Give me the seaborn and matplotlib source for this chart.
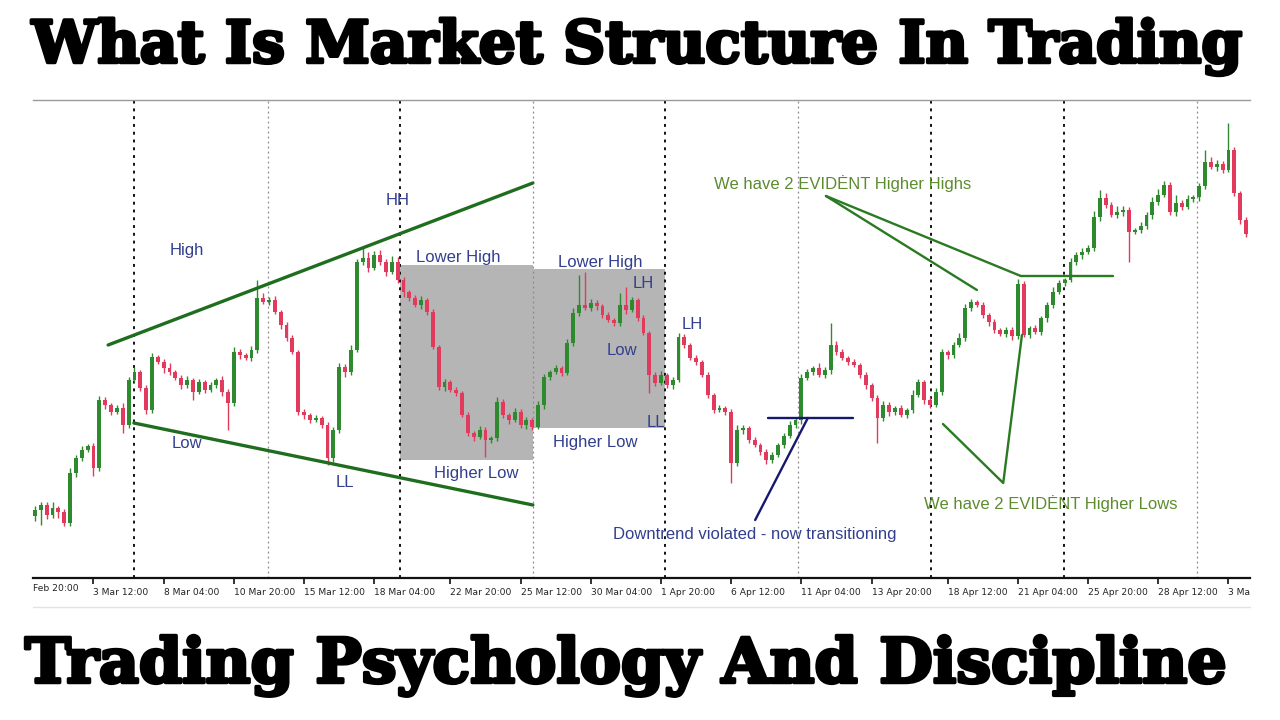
import numpy as np
import pandas as pd
import seaborn as sns
import matplotlib.pyplot as plt
from matplotlib.lines import Line2D
from matplotlib.patches import Rectangle
import matplotlib.patheffects as pe
import matplotlib.transforms as mtransforms

sns.set_theme(style="white")
plt.rcParams['font.family'] = ['Liberation Sans', 'DejaVu Sans']

# candle closes (price units), open of each candle = previous close
first_open = 84
closes = [
    90, 95, 85, 92, 88, 77, 127, 142, 150, 154,
    132, 200, 195, 188, 192, 175, 220, 228, 212, 190,
    243, 238, 232, 228, 222, 215, 220, 208, 218, 210,
    215, 220, 208, 197, 248, 245, 242, 250, 302, 298,
    300, 288, 275, 262, 248, 188, 185, 180, 182, 175,
    142, 170, 233, 228, 250, 338, 342, 332, 345, 338,
    328, 338, 320, 308, 302, 295, 300, 288, 253, 213,
    218, 210, 207, 185, 167, 163, 170, 160, 162, 198,
    185, 180, 188, 175, 180, 173, 195, 223, 228, 232,
    227, 257, 287, 295, 292, 297, 294, 285, 280, 277,
    295, 290, 300, 282, 267, 225, 217, 225, 215, 220,
    263, 255, 242, 238, 225, 205, 190, 192, 188, 137,
    170, 172, 160, 155, 148, 140, 145, 155, 164, 175,
    180, 222, 228, 232, 225, 230, 255, 248, 242, 238,
    235, 225, 215, 202, 182, 195, 188, 192, 185, 190,
    205, 218, 200, 195, 208, 248, 245, 255, 262, 292,
    298, 295, 285, 278, 270, 266, 270, 264, 316, 265,
    272, 268, 282, 295, 308, 317, 320, 338, 345, 348,
    352, 383, 402, 395, 385, 388, 390, 368, 370, 374,
    385, 398, 405, 415, 388, 397, 393, 401, 403, 414,
    438, 433, 436, 430, 450, 407, 380, 366,
]
# upper / lower shadow lengths
wick_up = [
    4, 3, 3, 6, 2, 3, 5, 3, 4, 2, 3, 4, 3, 2, 3, 5, 3, 5, 2, 3,
    4, 2, 3, 5, 2, 3, 4, 2, 3, 2, 3, 2, 4, 3, 5, 3, 2, 4, 18, 5,
    3, 4, 2, 3, 3, 2, 3, 2, 3, 2, 3, 3, 4, 3, 5, 3, 10, 6, 4, 5,
    3, 6, 5, 3, 2, 3, 4, 2, 3, 2, 3, 2, 3, 2, 3, 2, 4, 3, 2, 5,
    3, 2, 4, 3, 3, 2, 4, 3, 2, 3, 2, 4, 5, 30, 33, 4, 3, 2, 3, 2,
    12, 18, 3, 2, 3, 2, 3, 4, 2, 3, 4, 3, 2, 3, 2, 3, 2, 3, 2, 3,
    5, 3, 2, 3, 2, 3, 3, 2, 3, 4, 3, 4, 3, 2, 5, 3, 22, 4, 3, 2,
    3, 2, 3, 2, 3, 4, 3, 2, 3, 2, 5, 3, 2, 3, 4, 3, 2, 3, 5, 4,
    3, 2, 3, 2, 3, 2, 3, 3, 5, 3, 2, 3, 2, 3, 5, 3, 2, 4, 3, 4,
    3, 6, 8, 5, 3, 6, 4, 3, 2, 4, 3, 5, 6, 4, 3, 8, 3, 4, 2, 3,
    12, 5, 4, 3, 27, 3, 2, 3,
]
wick_dn = [
    5, 15, 4, 3, 6, 3, 3, 4, 3, 2, 8, 3, 4, 3, 2, 8, 3, 2, 3, 4,
    3, 2, 5, 3, 2, 4, 3, 8, 2, 3, 2, 3, 4, 27, 3, 4, 2, 3, 3, 2,
    3, 2, 4, 3, 2, 3, 4, 3, 2, 3, 7, 4, 3, 5, 3, 2, 3, 4, 2, 3,
    4, 2, 3, 5, 3, 2, 4, 3, 2, 3, 4, 2, 3, 2, 3, 4, 2, 17, 3, 3,
    3, 4, 2, 3, 4, 3, 2, 4, 3, 2, 3, 2, 3, 3, 2, 3, 4, 3, 2, 3,
    3, 4, 2, 3, 2, 18, 3, 2, 3, 4, 2, 3, 2, 3, 2, 3, 3, 2, 3, 20,
    3, 4, 3, 2, 3, 4, 3, 2, 3, 2, 3, 4, 2, 3, 2, 3, 4, 3, 2, 3,
    2, 3, 4, 3, 25, 3, 4, 3, 2, 3, 3, 2, 4, 3, 2, 3, 4, 3, 2, 3,
    3, 2, 3, 4, 3, 2, 3, 4, 3, 2, 3, 2, 3, 4, 3, 2, 3, 2, 3, 4,
    2, 3, 4, 3, 2, 3, 4, 30, 2, 3, 3, 4, 3, 2, 3, 4, 3, 2, 3, 4,
    3, 2, 4, 3, 2, 3, 4, 3,
]

tick_pos = [10, 22, 34, 46, 58, 71, 83, 95, 107, 119, 131, 143, 156, 168, 180, 192, 204]
tick_labels = ["3 Mar 12:00", "8 Mar 04:00", "10 Mar 20:00", "15 Mar 12:00", "18 Mar 04:00",
               "22 Mar 20:00", "25 Mar 12:00", "30 Mar 04:00", "1 Apr 20:00", "6 Apr 12:00",
               "11 Apr 04:00", "13 Apr 20:00", "18 Apr 12:00", "21 Apr 04:00", "25 Apr 20:00",
               "28 Apr 12:00", "3 Ma"]
sep_dark = [16.9, 62.4, 107.7, 153.2, 175.9]
sep_light = [39.8, 85.1, 130.4, 198.6]

# annotation anchors: (candle index, price)
wedge_top = ([12.5, 85.1], [255, 417])
wedge_bottom = ([16.9, 85.1], [177, 95])
box_lower_high = (62.4, 85.1, 140, 335)
box_higher_low = (85.1, 107.7, 172, 331)
break_line = ([123.1, 132.1], [80, 182])
break_level = ([125.3, 139.8], [182, 182])
hh_line_a = ([135.2, 161.0], [404, 310])
hh_line_b = ([135.2, 168.5], [404, 324])
hh_level = ([168.5, 184.3], [324, 324])
hl_line = ([155.2, 165.5, 168.7], [176, 117, 265])

blue_labels = [
    ("High", 26, 350), ("Low", 26, 157), ("LL", 53, 118), ("HH", 62, 400),
    ("Lower High", 72.3, 343), ("Higher Low", 75.4, 127), ("Lower High", 96.6, 338),
    ("LH", 103.9, 317), ("Low", 100.3, 250), ("Higher Low", 95.7, 158),
    ("LL", 106.2, 178), ("LH", 112.3, 276),
    ("Downtrend violated - now transitioning", 123.1, 65),
]
green_labels = [
    ("We have 2 EVIDĖNT Higher Highs", 138.1, 416),
    ("We have 2 EVIDĖNT Higher Lows", 173.7, 96),
]

n = len(closes)
df = pd.DataFrame({"i": np.arange(n), "open": [first_open] + closes[:-1], "close": closes})
df["high"] = df[["open", "close"]].max(axis=1) + np.array(wick_up)
df["low"] = df[["open", "close"]].min(axis=1) - np.array(wick_dn)
df["bull"] = df["close"] >= df["open"]

GREEN = "#2f8a2f"
RED = "#e23a5c"
NAVY = "#323f8e"
TXTGREEN = "#5c8c2e"

fig = plt.figure(figsize=(12.8, 7.2), dpi=100)
ax = fig.add_axes([33 / 1280, 1 - 578 / 720, (1250 - 33) / 1280, (578 - 100) / 720])
ax.set_xlim(-0.34, n - 1 + 0.68)
ax.set_ylim(22, 500)

# gray zones
for x0, x1, y0, y1 in [box_lower_high, box_higher_low]:
    ax.add_patch(Rectangle((x0, y0), x1 - x0, y1 - y0, color="#b5b5b5", zorder=1, lw=0))

# period separators
for xv in sep_dark:
    ax.axvline(xv, color="#111111", ls=(0, (1.5, 2.5)), lw=1.4, zorder=1.5)
for xv in sep_light:
    ax.axvline(xv, color="#8a8a8a", ls=(0, (1.5, 2.5)), lw=0.9, zorder=1.5)

# candles
colors = np.where(df["bull"], GREEN, RED)
ax.vlines(df["i"], df["low"], df["high"], colors=colors, lw=1.0, zorder=3)
body = np.maximum((df["close"] - df["open"]).abs(), 1.2)
ax.bar(df["i"], body, bottom=df[["open", "close"]].min(axis=1), width=0.66,
       color=colors, lw=0, zorder=3.5)

# structure lines
for xs, ys in [wedge_top, wedge_bottom]:
    sns.lineplot(x=xs, y=ys, ax=ax, color="#1f6e1f", lw=2.4, sort=False, zorder=4)
for xs, ys in [hh_line_a, hh_line_b, hh_level, hl_line]:
    sns.lineplot(x=xs, y=ys, ax=ax, color="#2a7a22", lw=1.7, sort=False, zorder=4)
for xs, ys in [break_line, break_level]:
    sns.lineplot(x=xs, y=ys, ax=ax, color="#16186e", lw=1.7, sort=False, zorder=4)

for txt, xv, yv in blue_labels:
    ax.text(xv, yv, txt, color=NAVY, fontsize=12, ha="center", va="center", zorder=5)
for txt, xv, yv in green_labels:
    ax.text(xv, yv, txt, color=TXTGREEN, fontsize=12, ha="center", va="center", zorder=5)

# axes cosmetics
ax.set_yticks([])
ax.set_xticks(tick_pos)
ax.set_xticklabels(tick_labels, fontsize=6.6, ha="left", color="#222222",
                   family=["DejaVu Sans"])
shift = mtransforms.ScaledTranslation(2 / 100, 0, fig.dpi_scale_trans)
for lab in ax.get_xticklabels():
    lab.set_transform(lab.get_transform() + shift)
ax.tick_params(axis="x", bottom=True, length=4, width=1.2, color="#111111", pad=3)
ax.text(0.0, -0.012, "Feb 20:00", transform=ax.transAxes, fontsize=6.6, ha="left", va="top",
        color="#222222", family=["DejaVu Sans"])
for side in ["left", "right"]:
    ax.spines[side].set_visible(False)
ax.spines["top"].set_color("#9a9a9a")
ax.spines["top"].set_linewidth(1.0)
ax.spines["bottom"].set_color("#111111")
ax.spines["bottom"].set_linewidth(1.6)
ax.set_xlabel("")
ax.set_ylabel("")

fig.add_artist(Line2D([33 / 1280, 1250 / 1280], [1 - 607 / 720] * 2, color="#e2e2e2", lw=1))

title_font = ["DejaVu Serif"]
heavy = [pe.withStroke(linewidth=2.5, foreground="black")]
fig.text(637 / 1280, 1 - 47 / 720, "What Is Market Structure In Trading", ha="center",
         va="center", fontsize=42, fontweight="bold", family=title_font, color="black",
         path_effects=heavy)
fig.text(625 / 1280, 1 - 666 / 720, "Trading Psychology And Discipline", ha="center",
         va="center", fontsize=44.5, fontweight="bold", family=title_font, color="black",
         path_effects=heavy)

fig.savefig("out.png", dpi=100)
